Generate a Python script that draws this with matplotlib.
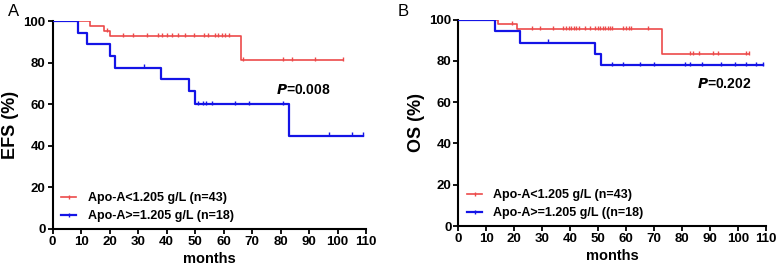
import numpy as np
import matplotlib
matplotlib.use("Agg")
import matplotlib.pyplot as plt
from matplotlib.lines import Line2D

plt.rcParams['font.family'] = ['Liberation Sans', 'DejaVu Sans']
plt.rcParams['font.weight'] = 'bold'

RED = '#ec4a4a'
BLUE = '#1414e6'

# panel A (EFS) - step functions
efs_low_t = [0, 13, 18, 20, 66, 102]
efs_low_s = [100, 97.7, 95.3, 93.0, 81.4, 81.4]
efs_low_cens = [19, 24.6, 28.4, 33, 37.1, 38.5, 40, 41.8, 44.1, 46.5, 49.8,
                53.2, 54.7, 57, 58.2, 59.4, 60.5, 61.8, 67, 81, 84, 92, 102]
efs_high_t = [0, 9, 12, 20, 22, 38, 48, 50, 83, 109]
efs_high_s = [100, 94.4, 88.9, 83.3, 77.8, 72.2, 66.7, 60.0, 45.0, 45.0]
efs_high_cens = [32, 51, 52.7, 54, 56, 64, 69, 81, 97, 105, 109]

# panel B (OS)
os_low_t = [0, 14, 21, 73, 104]
os_low_s = [100, 97.7, 95.3, 83.4, 83.4]
os_low_cens = [19, 26.3, 29.2, 34, 37.6, 38.5, 39.5, 40.3, 41.2, 42.1, 43,
               45.3, 47.1, 48.9, 49.8, 50.7, 51.6, 52.5, 53.4, 54.3, 55.1,
               59, 60, 61, 61.7, 68, 83, 84, 86, 91, 93, 103, 104]
os_high_t = [0, 13, 22, 49, 51, 109]
os_high_s = [100, 94.4, 88.9, 83.3, 77.8, 77.8]
os_high_cens = [32, 55, 59, 65, 70, 81, 83, 87, 94, 99, 103, 106.5, 109]

xticks = list(range(0, 111, 10))
yticks = [0, 20, 40, 60, 80, 100]


def level(t, s, x):
    # value of the step function at time x
    idx = np.searchsorted(t, x, side='right') - 1
    return np.array(s)[idx]


def km(ax, t, s, cens, color, lw):
    ax.step(t, s, where='post', color=color, lw=lw, zorder=3)
    ax.plot(cens, level(t, s, cens) + 0.6, ls='none', marker='|',
            ms=3.5, mew=1.0, color=color, zorder=3)


def style(ax, ylabel):
    ax.set_xlim(0, 110)
    ax.set_ylim(0, 100)
    ax.set_xticks(xticks)
    ax.set_yticks(yticks)
    ax.spines['top'].set_visible(False)
    ax.spines['right'].set_visible(False)
    ax.spines['left'].set_linewidth(1.5)
    ax.spines['bottom'].set_linewidth(1.5)
    ax.tick_params(width=1.3, length=3.5, labelsize=9.5, pad=1.5)
    for lab in ax.get_xticklabels() + ax.get_yticklabels():
        lab.set_fontweight('bold')
    ax.set_xlabel('months', fontsize=10.5, fontweight='bold', labelpad=3)
    ax.set_ylabel(ylabel, fontsize=13, fontweight='bold', labelpad=3)
    for sp in ax.spines.values():
        sp.set_clip_on(False)


fig = plt.figure(figsize=(7.77, 2.65), dpi=100)
axA = fig.add_axes([0.0676, 0.136, 0.4035, 0.783])
axB = fig.add_axes([0.590, 0.147, 0.3956, 0.779])

km(axA, efs_low_t, efs_low_s, efs_low_cens, RED, 1.2)
km(axA, efs_high_t, efs_high_s, efs_high_cens, BLUE, 1.6)
style(axA, 'EFS (%)')
axA.text(88, 67, r'$\bfit{P}$' + '=0.008', fontsize=10, fontweight='bold',
         ha='center', va='center')

km(axB, os_low_t, os_low_s, os_low_cens, RED, 1.2)
km(axB, os_high_t, os_high_s, os_high_cens, BLUE, 1.6)
style(axB, 'OS (%)')
axB.text(95, 69, r'$\bfit{P}$' + '=0.202', fontsize=10, fontweight='bold',
         ha='center', va='center')


def legend(ax, labels):
    handles = [Line2D([], [], color=RED, lw=1.2, marker='|', ms=3.5),
               Line2D([], [], color=BLUE, lw=1.6, marker='|', ms=3.5)]
    leg = ax.legend(handles, labels, loc='lower left', bbox_to_anchor=(0.0, -0.01),
                    frameon=False, prop={'size': 9, 'weight': 'bold'},
                    handlelength=1.2, handletextpad=0.9, labelspacing=0.5,
                    borderaxespad=0.3)
    return leg


legend(axA, ['Apo-A<1.205 g/L (n=43)', 'Apo-A>=1.205 g/L (n=18)'])
legend(axB, ['Apo-A<1.205 g/L (n=43)', 'Apo-A>=1.205 g/L ((n=18)'])

fig.text(8 / 777, 1 - 12 / 265, 'A', fontsize=12, fontweight='normal',
         va='center', ha='left')
fig.text(398 / 777, 1 - 12 / 265, 'B', fontsize=12, fontweight='normal',
         va='center', ha='left')

fig.savefig('out.png', dpi=100)
